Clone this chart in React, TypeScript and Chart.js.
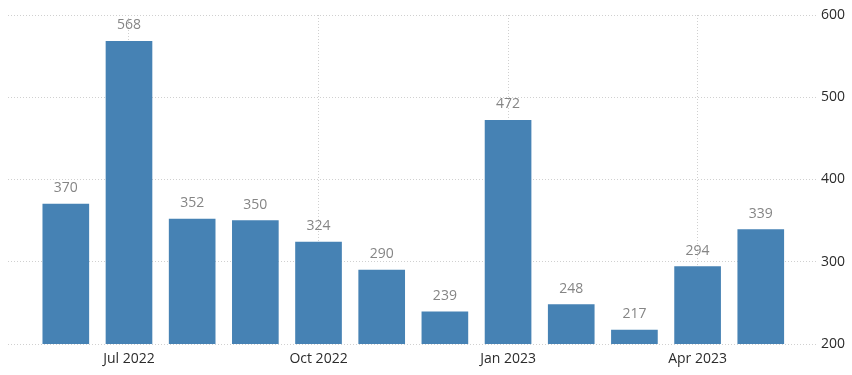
import React, { useEffect, useRef } from "react";
import { Chart, registerables } from "chart.js";

Chart.register(...registerables);

const months = [
  "Jun 2022", "Jul 2022", "Aug 2022", "Sep 2022", "Oct 2022", "Nov 2022",
  "Dec 2022", "Jan 2023", "Feb 2023", "Mar 2023", "Apr 2023", "May 2023",
];
const values = [370, 568, 352, 350, 324, 290, 239, 472, 248, 217, 294, 339];
const xTickIndices = [1, 4, 7, 10];
const yTicks = [200, 300, 400, 500, 600];

const FONT = "'Open Sans', 'DejaVu Sans', sans-serif";

const valueLabels = {
  id: "valueLabels",
  afterDatasetsDraw(chart: any) {
    const ctx = chart.ctx;
    const meta = chart.getDatasetMeta(0);
    ctx.save();
    ctx.font = `14px ${FONT}`;
    ctx.fillStyle = "#858585";
    ctx.textAlign = "center";
    ctx.textBaseline = "middle";
    meta.data.forEach((bar: any, i: number) => {
      ctx.fillText(String(values[i]), bar.x, bar.y - 16);
    });
    ctx.restore();
  },
};

export default function App() {
  const ref = useRef<HTMLCanvasElement | null>(null);
  useEffect(() => {
    if (!ref.current) return;
    const chart = new Chart(ref.current, {
      type: "bar",
      data: {
        datasets: [
          {
            data: values.map((v, i) => ({ x: i, y: v })),
            backgroundColor: "#4682B4",
            barThickness: 46,
          },
        ],
      },
      options: {
        animation: false,
        responsive: false,
        maintainAspectRatio: false,
        layout: { padding: { top: 15, left: 8, right: 0, bottom: 0 } },
        plugins: { legend: { display: false }, tooltip: { enabled: false } },
        scales: {
          x: {
            type: "linear",
            offset: false,
            min: -0.915,
            max: 11.89,
            afterBuildTicks: (scale: any) => {
              scale.ticks = xTickIndices.map((v) => ({ value: v }));
            },
            afterFit: (scale: any) => {
              scale.height = 31;
            },
            ticks: {
              autoSkip: false,
              maxRotation: 0,
              padding: 7,
              color: "#2b2b2b",
              font: { family: FONT, size: 14 },
              callback: (v: any) => months[Number(v)] ?? "",
            },
            grid: {
              offset: false,
              color: "#d0d0d0",
              drawTicks: false,
            },
            border: { display: false, dash: [1, 2] },
          },
          y: {
            position: "right",
            min: 200,
            max: 600,
            afterBuildTicks: (scale: any) => {
              scale.ticks = yTicks.map((v) => ({ value: v }));
            },
            afterFit: (scale: any) => {
              scale.width = 35;
            },
            ticks: {
              padding: 4,
              color: "#2b2b2b",
              font: { family: FONT, size: 14 },
            },
            grid: { color: "#d0d0d0", drawTicks: false },
            border: { display: false, dash: [1, 2] },
          },
        },
      },
      plugins: [valueLabels],
    } as any);
    return () => chart.destroy();
  }, []);
  return (
    <div style={{ position: "fixed", left: 0, top: 0, width: 852, height: 375, background: "#fff" }}>
      <canvas ref={ref} width={852} height={375} style={{ width: 852, height: 375 }} />
    </div>
  );
}
